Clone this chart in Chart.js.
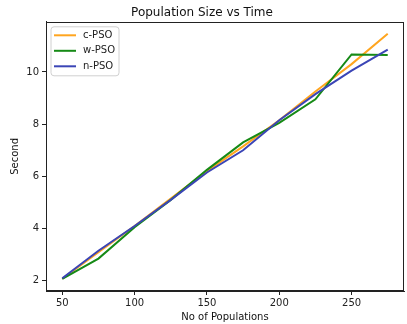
<!DOCTYPE html>
<html>
<head>
<meta charset="utf-8">
<script src="https://cdn.jsdelivr.net/npm/chart.js@4/dist/chart.umd.min.js"></script>
<style>
html,body{margin:0;padding:0;background:#fff;}
#wrap{width:407px;height:324px;position:relative;}
</style>
</head>
<body>
<div id="wrap"><canvas id="c" width="407" height="324"></canvas></div>
<script>
const populations = [50, 75, 100, 125, 150, 175, 200, 225, 250, 275];
const cPSO = [2.08, 3.10, 4.10, 5.15, 6.20, 7.15, 8.15, 9.25, 10.30, 11.46];
const wPSO = [2.07, 2.85, 4.05, 5.10, 6.25, 7.30, 8.05, 8.95, 10.67, 10.65];
const nPSO = [2.10, 3.15, 4.10, 5.10, 6.15, 7.00, 8.15, 9.15, 10.05, 10.85];
const seriesNames = ['c-PSO', 'w-PSO', 'n-PSO'];
const xTickLabels = [50, 100, 150, 200, 250];
const yTickLabels = [2, 4, 6, 8, 10];

const colors = ['#ffa51f', '#168a16', '#3b45b6'];
const seriesData = [cPSO, wPSO, nPSO];
const FONT = 'DejaVu Sans';

const datasets = seriesData.map((vals, i) => ({
  label: seriesNames[i],
  data: populations.map((p, j) => ({x: p, y: vals[j]})),
  borderColor: colors[i],
  backgroundColor: colors[i],
  borderWidth: 2,
  pointRadius: 0,
  tension: 0,
  fill: false,
  order: 2 - i
}));

const frameAndLegend = {
  id: 'frameAndLegend',
  afterDraw(chart) {
    const ctx = chart.ctx;
    const a = chart.chartArea;
    ctx.save();
    ctx.strokeStyle = '#222';
    ctx.lineWidth = 1;
    ctx.strokeRect(Math.round(a.left) + 0.5, Math.round(a.top) + 0.5,
                   Math.round(a.right - a.left) - 1, Math.round(a.bottom - a.top) - 1);
    // legend
    const bx = a.left + 5, by = a.top + 5, bw = 68, bh = 49;
    const r = 3;
    ctx.beginPath();
    ctx.moveTo(bx + r, by);
    ctx.lineTo(bx + bw - r, by);
    ctx.quadraticCurveTo(bx + bw, by, bx + bw, by + r);
    ctx.lineTo(bx + bw, by + bh - r);
    ctx.quadraticCurveTo(bx + bw, by + bh, bx + bw - r, by + bh);
    ctx.lineTo(bx + r, by + bh);
    ctx.quadraticCurveTo(bx, by + bh, bx, by + bh - r);
    ctx.lineTo(bx, by + r);
    ctx.quadraticCurveTo(bx, by, bx + r, by);
    ctx.closePath();
    ctx.fillStyle = 'rgba(255,255,255,0.85)';
    ctx.fill();
    ctx.strokeStyle = '#d0d0d0';
    ctx.lineWidth = 1;
    ctx.stroke();
    ctx.font = '10px "' + FONT + '"';
    ctx.textBaseline = 'middle';
    ctx.textAlign = 'left';
    seriesNames.forEach((name, i) => {
      const y = by + 8.5 + i * 15.5;
      ctx.strokeStyle = colors[i];
      ctx.lineWidth = 2;
      ctx.beginPath();
      ctx.moveTo(bx + 3, y);
      ctx.lineTo(bx + 25, y);
      ctx.stroke();
      ctx.fillStyle = '#222';
      ctx.fillText(name, bx + 32, y);
    });
    ctx.restore();
  }
};

new Chart(document.getElementById('c'), {
  type: 'line',
  data: { datasets },
  options: {
    responsive: false,
    animation: false,
    events: [],
    layout: { padding: { left: 0, right: 3, top: 0, bottom: 0 } },
    plugins: {
      legend: { display: false },
      tooltip: { enabled: false },
      title: {
        display: true,
        text: 'Population Size vs Time',
        color: '#111',
        font: { family: FONT, size: 12, weight: 'normal' },
        padding: { top: 6, bottom: 1.4 }
      }
    },
    scales: {
      x: {
        type: 'linear',
        min: 38.75,
        max: 286.25,
        afterFit(s) { s.height = 33; },
        afterBuildTicks(s) { s.ticks = xTickLabels.map(v => ({value: v})); },
        grid: { display: true, drawOnChartArea: false, drawTicks: true, tickLength: 4, color: '#222', tickWidth: 1 },
        border: { display: true, color: '#222', width: 1 },
        ticks: { color: '#222', font: { family: FONT, size: 10 }, padding: 2, maxRotation: 0, autoSkip: false },
        title: { display: true, text: 'No of Populations', color: '#111', font: { family: FONT, size: 10 }, padding: { top: 0, bottom: 1 } }
      },
      y: {
        type: 'linear',
        min: 1.61,
        max: 11.92,
        afterFit(s) { s.width = 46; },
        afterBuildTicks(s) { s.ticks = yTickLabels.map(v => ({value: v})); },
        grid: { display: true, drawOnChartArea: false, drawTicks: true, tickLength: 4, color: '#222', tickWidth: 1 },
        border: { display: true, color: '#222', width: 1 },
        ticks: { color: '#222', font: { family: FONT, size: 10 }, padding: 3, autoSkip: false },
        title: { display: true, text: 'Second', color: '#111', font: { family: FONT, size: 10 }, padding: { top: 9, bottom: 0 } }
      }
    }
  },
  plugins: [frameAndLegend]
});
</script>
</body>
</html>
